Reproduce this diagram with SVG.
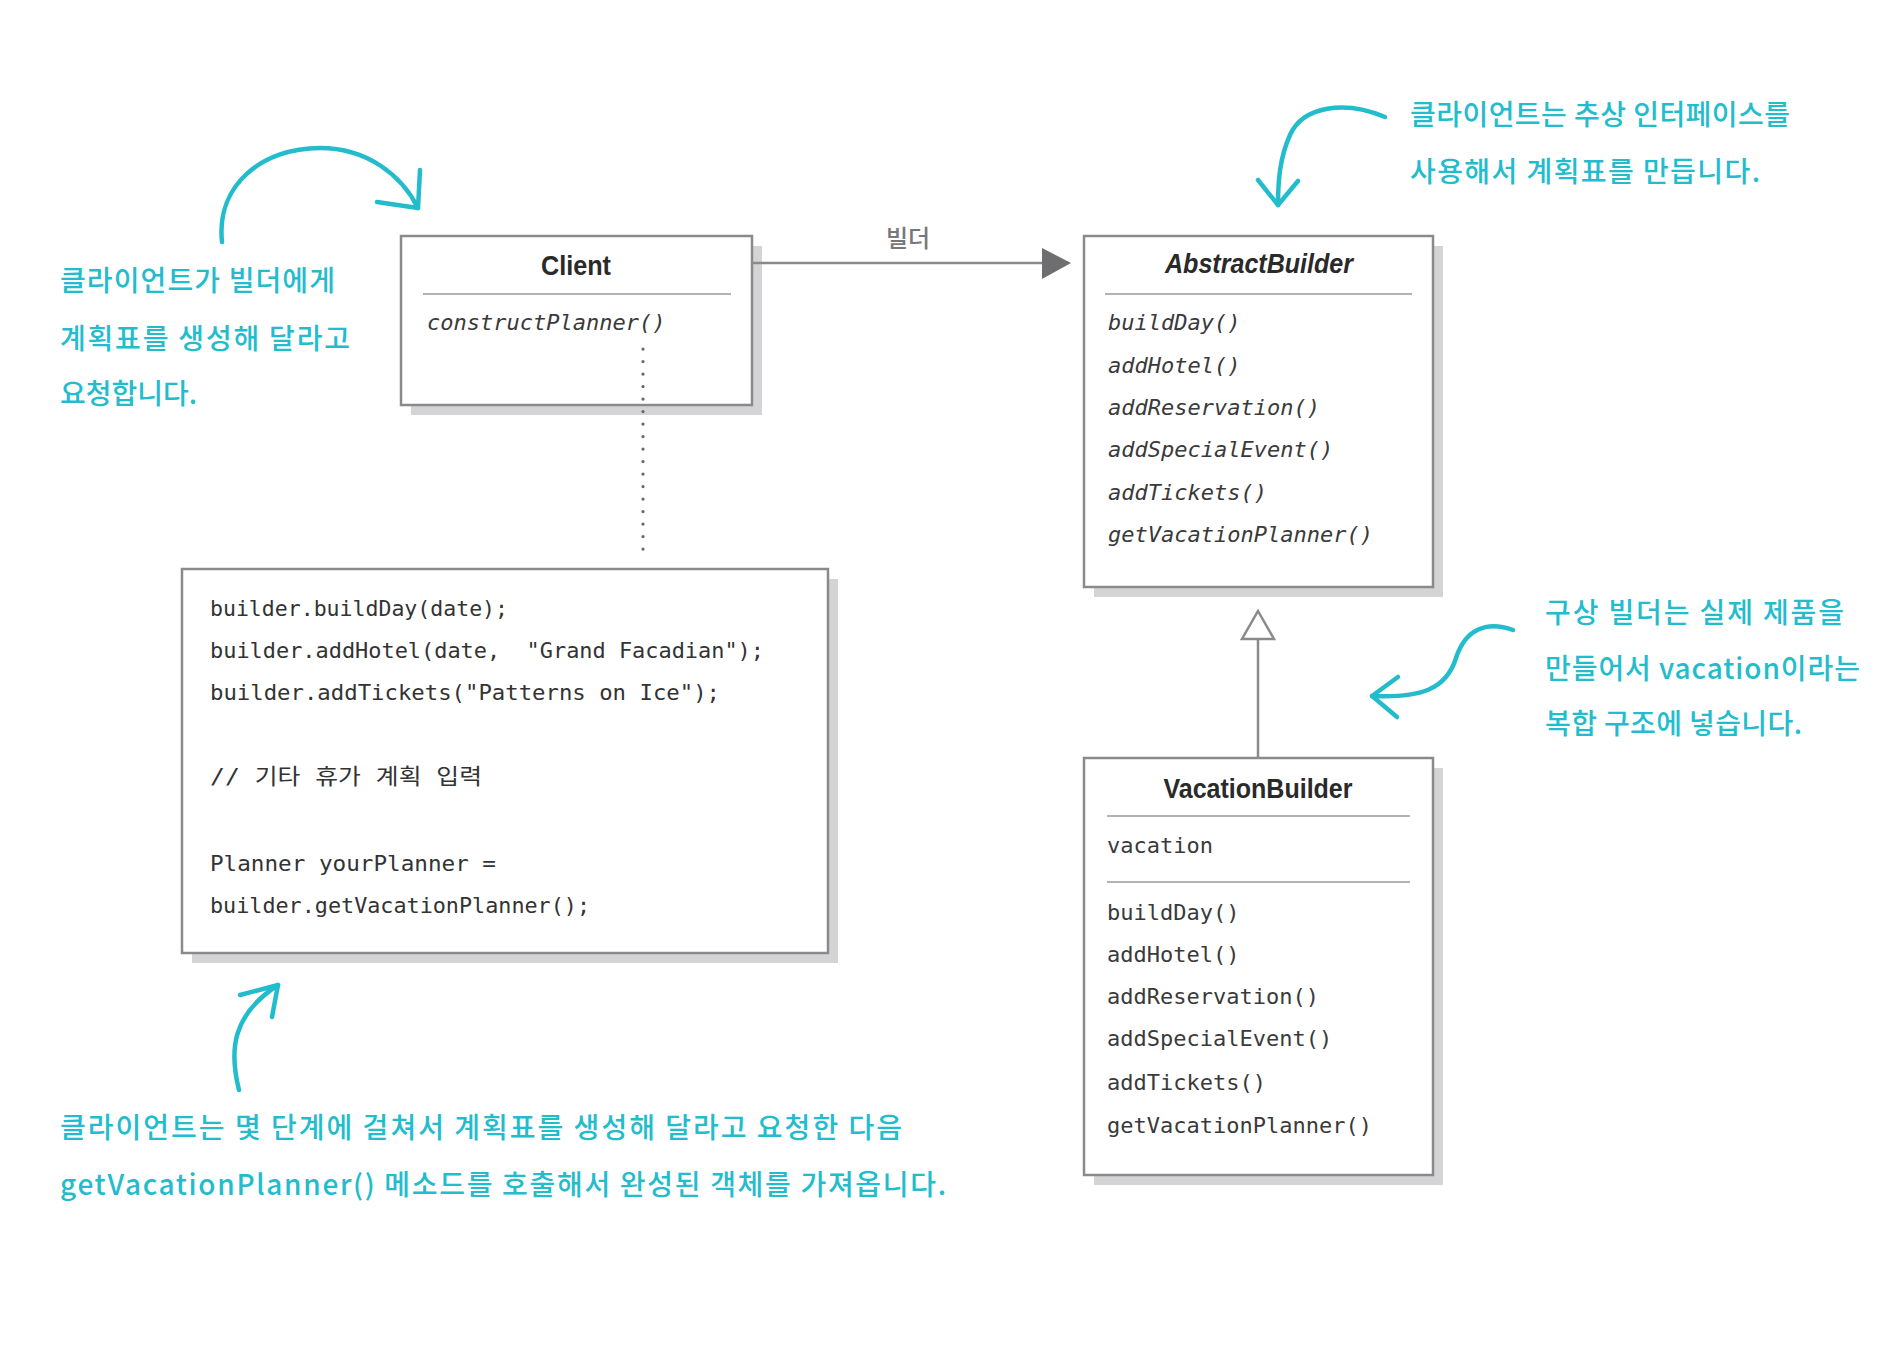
<svg xmlns="http://www.w3.org/2000/svg" width="1890" height="1352" viewBox="0 0 1890 1352">
  <style>
    .box { fill: #ffffff; stroke: #8a8a8a; stroke-width: 2.5; }
    .shadow { fill: #d4d4d6; }
    .sep { stroke: #9a9a9a; stroke-width: 1.6; }
    .title { font-family: "Liberation Sans", Arial, sans-serif; font-weight: bold; font-size: 28px; fill: #2a2a2a; text-anchor: middle; }
    .mono { font-family: "DejaVu Sans Mono", "Liberation Mono", "Noto Sans CJK KR", monospace; font-size: 22px; fill: #3a3a3a; }
    .ital { font-style: italic; }
    .code { font-family: "DejaVu Sans Mono", "Liberation Mono", "Noto Sans CJK KR", monospace; font-size: 22px; fill: #333333; }
    .note { font-family: "Noto Sans CJK KR", "Noto Sans", sans-serif; font-size: 28px; font-weight: 500; fill: #22bccd; }
    .hand { fill: none; stroke: #22bccd; stroke-width: 4.5; stroke-linecap: round; stroke-linejoin: round; }
    .conn { fill: none; stroke: #8a8a8a; stroke-width: 2.5; }
    .label { font-family: "Noto Sans CJK KR", "Noto Sans", sans-serif; font-size: 24px; font-weight: 500; fill: #777777; text-anchor: middle; }
  </style>
  <rect width="1890" height="1352" fill="#ffffff"/>

  <!-- Client -->
  <g id="client">
    <rect class="shadow" x="411" y="246" width="351" height="169"/>
    <rect class="box" x="401" y="236" width="351" height="169"/>
    <text class="title" x="576" y="275" textLength="70" lengthAdjust="spacingAndGlyphs">Client</text>
    <line class="sep" x1="423" y1="294" x2="731" y2="294"/>
    <text class="mono ital" x="427" y="330">constructPlanner()</text>
  </g>

  <!-- AbstractBuilder -->
  <g id="abstract-builder">
    <rect class="shadow" x="1094" y="246" width="349" height="351"/>
    <rect class="box" x="1084" y="236" width="349" height="351"/>
    <text class="title ital" x="1259" y="273" textLength="188" lengthAdjust="spacingAndGlyphs">AbstractBuilder</text>
    <line class="sep" x1="1105" y1="294" x2="1412" y2="294"/>
    <text class="mono ital" x="1108" y="330">buildDay()</text>
    <text class="mono ital" x="1108" y="373">addHotel()</text>
    <text class="mono ital" x="1108" y="415">addReservation()</text>
    <text class="mono ital" x="1108" y="457">addSpecialEvent()</text>
    <text class="mono ital" x="1108" y="500">addTickets()</text>
    <text class="mono ital" x="1108" y="542">getVacationPlanner()</text>
  </g>

  <!-- VacationBuilder -->
  <g id="vacation-builder">
    <rect class="shadow" x="1094" y="768" width="349" height="417"/>
    <rect class="box" x="1084" y="758" width="349" height="417"/>
    <text class="title" x="1258" y="798" textLength="189" lengthAdjust="spacingAndGlyphs">VacationBuilder</text>
    <line class="sep" x1="1107" y1="816" x2="1410" y2="816"/>
    <text class="mono" x="1107" y="853">vacation</text>
    <line class="sep" x1="1107" y1="882" x2="1410" y2="882"/>
    <text class="mono" x="1107" y="920">buildDay()</text>
    <text class="mono" x="1107" y="962">addHotel()</text>
    <text class="mono" x="1107" y="1004">addReservation()</text>
    <text class="mono" x="1107" y="1046">addSpecialEvent()</text>
    <text class="mono" x="1107" y="1090">addTickets()</text>
    <text class="mono" x="1107" y="1133">getVacationPlanner()</text>
  </g>

  <!-- Client code note -->
  <g id="client-code">
    <rect class="shadow" x="192" y="579" width="646" height="384"/>
    <rect class="box" x="182" y="569" width="646" height="384"/>
    <text class="code" x="210" y="616" textLength="298" lengthAdjust="spacingAndGlyphs">builder.buildDay(date);</text>
    <text class="code" x="210" y="658" textLength="554" lengthAdjust="spacingAndGlyphs" xml:space="preserve">builder.addHotel(date,  "Grand Facadian");</text>
    <text class="code" x="210" y="700" textLength="510" lengthAdjust="spacingAndGlyphs">builder.addTickets("Patterns on Ice");</text>
    <text class="code" x="210" y="784" textLength="272" lengthAdjust="spacingAndGlyphs">// 기타 휴가 계획 입력</text>
    <text class="code" x="210" y="871" textLength="286" lengthAdjust="spacingAndGlyphs">Planner yourPlanner =</text>
    <text class="code" x="210" y="913" textLength="380" lengthAdjust="spacingAndGlyphs">builder.getVacationPlanner();</text>
  </g>

  <!-- Annotation: client asks builder -->
  <g id="note-client-request">
    <path class="hand" d="M222,242 C216,185 262,148 320,148 C368,148 402,176 418,208"/>
    <path class="hand" d="M377,202 L418,208 L420,170"/>
    <text class="note" x="60" y="291" textLength="275" lengthAdjust="spacing">클라이언트가 빌더에게</text>
    <text class="note" x="60" y="349" textLength="290" lengthAdjust="spacing">계획표를 생성해 달라고</text>
    <text class="note" x="60" y="404" textLength="137" lengthAdjust="spacing">요청합니다.</text>
  </g>

  <!-- Annotation: abstract interface -->
  <g id="note-abstract">
    <path class="hand" d="M1385,117 C1345,100 1303,106 1290,135 C1280,157 1278,180 1278,205"/>
    <path class="hand" d="M1258,180 L1278,205 L1298,181"/>
    <text class="note" x="1410" y="125" textLength="380" lengthAdjust="spacing">클라이언트는 추상 인터페이스를</text>
    <text class="note" x="1410" y="182" textLength="350" lengthAdjust="spacing">사용해서 계획표를 만듭니다.</text>
  </g>

  <!-- Annotation: concrete builder -->
  <g id="note-concrete">
    <path class="hand" d="M1513,630 C1486,620 1465,630 1456,658 C1446,690 1420,698 1372,696"/>
    <path class="hand" d="M1398,677 L1372,696 L1397,717"/>
    <text class="note" x="1545" y="623" textLength="299" lengthAdjust="spacing">구상 빌더는 실제 제품을</text>
    <text class="note" x="1545" y="679" textLength="315" lengthAdjust="spacing">만들어서 vacation이라는</text>
    <text class="note" x="1545" y="734" textLength="257" lengthAdjust="spacing">복합 구조에 넣습니다.</text>
  </g>

  <!-- Annotation: steps and getVacationPlanner -->
  <g id="note-steps">
    <path class="hand" d="M239,1090 C229,1050 232,1015 278,985"/>
    <path class="hand" d="M240,995 L278,985 L272,1017"/>
    <text class="note" x="60" y="1138" textLength="842" lengthAdjust="spacing">클라이언트는 몇 단계에 걸쳐서 계획표를 생성해 달라고 요청한 다음</text>
    <text class="note" x="60" y="1195" textLength="886" lengthAdjust="spacing">getVacationPlanner() 메소드를 호출해서 완성된 객체를 가져옵니다.</text>
  </g>

  <!-- Connectors -->
  <g id="connectors">
    <line class="conn" x1="752" y1="263" x2="1044" y2="263"/>
    <polygon points="1042,248 1071,263 1042,279" fill="#6e6e70"/>
    <text class="label" x="908" y="247">빌더</text>
    <line x1="643" y1="349" x2="643" y2="560" stroke="#666666" stroke-width="3.2" stroke-linecap="round" stroke-dasharray="0.1 12.4"/>
    <line class="conn" x1="1258" y1="639" x2="1258" y2="757"/>
    <polygon points="1258,611 1274,639 1242,639" fill="#ffffff" stroke="#8a8a8a" stroke-width="2.5" stroke-linejoin="miter"/>
  </g>
</svg>
